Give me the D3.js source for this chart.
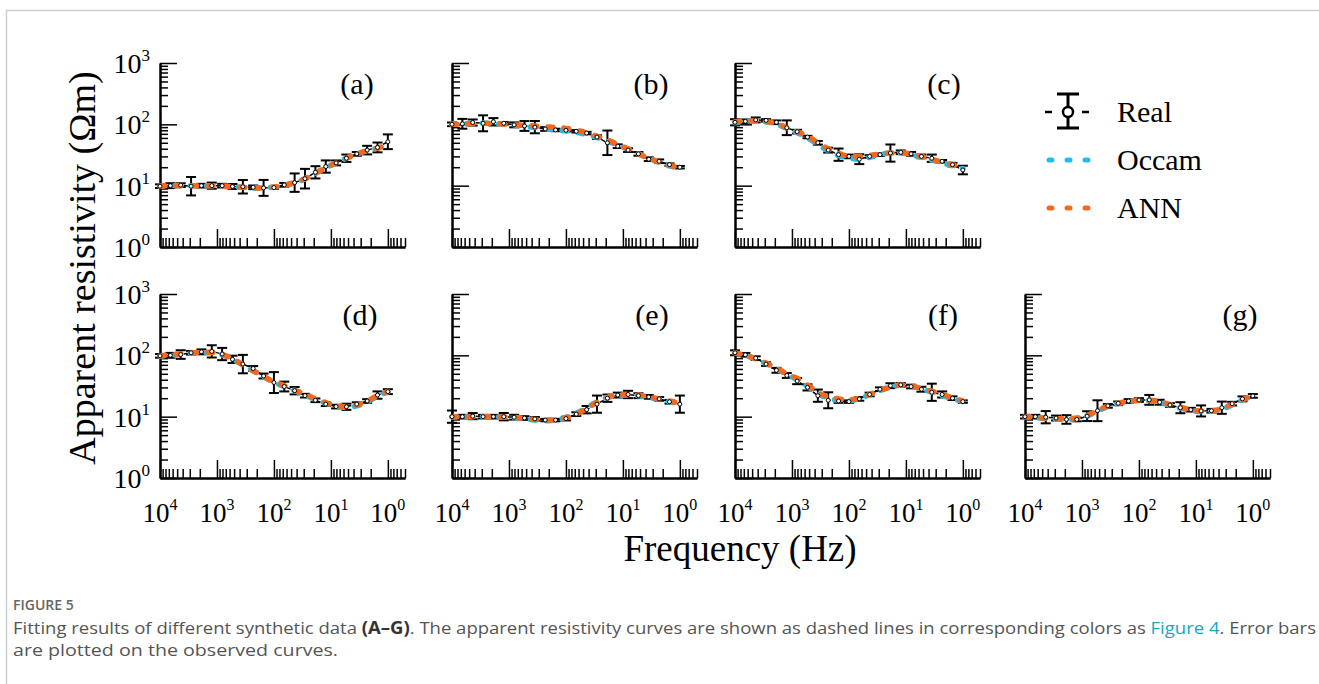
<!DOCTYPE html>
<html>
<head>
<meta charset="utf-8">
<script src="https://cdn.jsdelivr.net/npm/d3@7"></script>
<style>
  html, body { margin: 0; padding: 0; background: #fff; }
  svg { display: block; }
</style>
</head>
<body>
<svg id="chart" width="1319" height="684"></svg>
<script>
// sounding frequencies (Hz), shared by every panel
const freqs = [10000, 6579, 4329, 2848, 1874, 1233, 811, 534, 351, 231, 152, 100,
  65.8, 43.3, 28.5, 18.7, 12.3, 8.11, 5.34, 3.51, 2.31, 1.52, 1.0];

// panel (a)
const realA = [9.8, 10, 10.2, 9.8, 10, 10, 10, 9.7, 9.6, 9.4, 9.2, 9.3, 10.3, 11.2, 13, 16.5, 20.5, 23.5, 28, 33, 38, 42, 52];
const errA = [0.03, 0.04, 0.03, 0.15, 0.03, 0.05, 0.03, 0.04, 0.11, 0.03, 0.13, 0.02, 0.03, 0.15, 0.16, 0.1, 0.1, 0.04, 0.06, 0.03, 0.07, 0.08, 0.12];
const occamA = [9.8, 10, 10, 10, 10, 10, 9.8, 9.6, 9.4, 9.2, 9.2, 9.5, 10.1, 11.1, 13, 16, 19.5, 23.5, 28, 33, 37, 41, 46];
const annA = [9.8, 10, 10, 10, 10, 10, 9.8, 9.6, 9.4, 9.2, 9.2, 9.5, 10.2, 11.2, 13, 16, 19.5, 23.5, 28, 33, 37, 41, 46];

// panel (b)
const realB = [100, 102, 107, 104, 110, 104, 98, 94, 90, 84, 81, 80, 77, 72, 62, 50, 44, 38, 33, 27, 25, 22, 20];
const errB = [0.03, 0.08, 0.05, 0.13, 0.06, 0.02, 0.04, 0.08, 0.1, 0.03, 0.02, 0.02, 0.02, 0.02, 0.03, 0.2, 0.03, 0.03, 0.03, 0.03, 0.03, 0.02, 0.02];
const occamB = [100, 101, 103, 104, 103, 100, 97, 93, 89, 85, 81, 78, 74, 68, 61, 53, 46, 39, 33, 28, 24, 21, 19.5];
const annB = [100, 101, 103, 104, 103, 101, 98, 96, 94, 91, 89, 86, 80, 73, 64, 56, 47, 40, 33, 28, 24.5, 21.5, 19.5];

// panel (c)
const realC = [108, 112, 118, 116, 108, 88, 76, 62, 50, 38, 32, 30, 27, 30, 32, 34, 35, 33, 30, 28, 25, 22, 18];
const errC = [0.05, 0.03, 0.04, 0.02, 0.03, 0.12, 0.03, 0.02, 0.03, 0.04, 0.1, 0.03, 0.08, 0.02, 0.02, 0.14, 0.03, 0.03, 0.03, 0.06, 0.02, 0.03, 0.07];
const occamC = [106, 112, 114, 110, 101, 86, 73, 60, 47, 37, 31, 28, 27, 29, 32, 34, 34, 32, 29, 26, 23.5, 21, 19];
const annC = [110, 114, 115, 110, 104, 88, 76, 64, 50, 40, 34, 30, 30, 31, 33, 34, 34, 33, 30, 27, 24, 22, 19];

// panel (d)
const realD = [98, 100, 103, 110, 114, 116, 105, 86, 72, 61, 46, 36, 31, 26.5, 22, 18.5, 16, 14.6, 14.5, 16, 18, 22.5, 25.6];
const errD = [0.03, 0.04, 0.07, 0.03, 0.04, 0.1, 0.1, 0.06, 0.15, 0.04, 0.04, 0.17, 0.08, 0.06, 0.03, 0.03, 0.03, 0.03, 0.05, 0.03, 0.03, 0.06, 0.04];
const occamD = [97, 100, 104, 108, 110, 110, 102, 87, 70, 56, 45, 36, 31, 26.5, 22.5, 19, 16.5, 14.8, 14.2, 15, 17.4, 21.5, 25.6];
const annD = [98, 102, 106, 110, 112, 112, 104, 88, 70, 56, 45, 37, 32, 27, 23.5, 19.5, 17, 15, 14.6, 15.5, 18, 22, 25.6];

// panel (e)
const realE = [10, 10, 10.2, 10, 10, 10, 9.8, 9.5, 9.2, 8.8, 8.8, 9.3, 11, 13, 16, 20, 22.5, 23, 22, 21, 19.5, 17.5, 16];
const errE = [0.1, 0.03, 0.05, 0.03, 0.03, 0.06, 0.04, 0.03, 0.03, 0.02, 0.02, 0.03, 0.03, 0.06, 0.14, 0.06, 0.04, 0.06, 0.04, 0.03, 0.03, 0.03, 0.14];
const occamE = [10, 10, 10, 10, 10, 9.8, 9.5, 9.2, 8.8, 8.6, 8.8, 9.8, 11.4, 14, 17.5, 20.5, 22, 22.5, 22, 20.5, 19, 17.5, 16.3];
const annE = [10, 10, 10, 10, 10, 9.9, 9.7, 9.4, 9.0, 8.8, 8.9, 9.6, 11, 13.5, 17, 20.5, 22.5, 23, 22.5, 21, 19.5, 18, 16.5];

// panel (f)
const realF = [110, 102, 90, 72, 57, 47, 38, 30, 22, 18.5, 18, 17.6, 19.5, 23, 28, 32, 33, 31, 28, 25, 23, 20, 17.6];
const errF = [0.04, 0.03, 0.03, 0.03, 0.04, 0.04, 0.05, 0.05, 0.1, 0.13, 0.03, 0.02, 0.03, 0.03, 0.03, 0.04, 0.03, 0.03, 0.04, 0.14, 0.05, 0.03, 0.02];
const occamF = [109, 99, 87, 73, 60, 49, 40, 31, 24, 20, 18.5, 18.2, 19.6, 23, 27, 30.5, 32.5, 31.5, 28.5, 25, 22, 19.6, 17.6];
const annF = [110, 100, 88, 75, 62, 50, 42, 33, 25, 21, 19.5, 19, 20, 23, 27, 30, 33, 31.5, 29, 26, 23, 20.5, 18];

// panel (g)
const realG = [10, 10, 9.8, 9.5, 9, 9, 10.2, 12.5, 15, 16.5, 18, 18.7, 18.8, 17.2, 15.5, 14, 13, 12.4, 12.5, 14, 16.3, 19.5, 21.8];
const errG = [0.03, 0.03, 0.1, 0.04, 0.07, 0.03, 0.08, 0.17, 0.03, 0.03, 0.03, 0.03, 0.08, 0.04, 0.03, 0.09, 0.03, 0.09, 0.03, 0.1, 0.03, 0.04, 0.03];
const occamG = [10, 9.6, 9.3, 9.1, 9.0, 9.3, 10.3, 12.3, 14.6, 16.3, 17.6, 18.3, 18.2, 17.1, 15.4, 13.8, 12.7, 12.1, 12.2, 13.2, 15.5, 18.8, 21.5];
const annG = [10, 9.8, 9.5, 9.3, 9.2, 9.5, 10.5, 12.5, 15, 16.5, 17.8, 18.5, 18.5, 17.5, 15.8, 14.2, 13, 12.4, 12.5, 13.5, 16, 19, 21.5];

const panelLabels = ['(a)', '(b)', '(c)', '(d)', '(e)', '(f)', '(g)'];
const xMajor = [10000, 1000, 100, 10, 1];
const xExponents = ['4', '3', '2', '1', '0'];
const yMajor = [1, 10, 100, 1000];
const yExponents = ['0', '1', '2', '3'];
const legendNames = ['Real', 'Occam', 'ANN'];

const OCCAM_COLOR = '#22bdee';
const ANN_COLOR = '#f26a1e';
const FIT_DASH = '5 11';
const SERIF = "'Liberation Serif', 'Times New Roman', serif";
const SANS = "'Open Sans', 'Noto Sans', sans-serif";

const COL_X = [160, 452, 735, 1025];
const ROW_Y = [63, 294];
const PW = 245;
const PH = 184;

const panels = [
  { real: realA, err: errA, occam: occamA, ann: annA, col: 0, row: 0, lx: 197 },
  { real: realB, err: errB, occam: occamB, ann: annB, col: 1, row: 0, lx: 199 },
  { real: realC, err: errC, occam: occamC, ann: annC, col: 2, row: 0, lx: 209 },
  { real: realD, err: errD, occam: occamD, ann: annD, col: 0, row: 1, lx: 200 },
  { real: realE, err: errE, occam: occamE, ann: annE, col: 1, row: 1, lx: 200 },
  { real: realF, err: errF, occam: occamF, ann: annF, col: 2, row: 1, lx: 208 },
  { real: realG, err: errG, occam: occamG, ann: annG, col: 3, row: 1, lx: 215 },
];

// minor ticks: 2..9 within each decade
const minorTicks = (lo, hi) => {
  const out = [];
  for (let e = lo; e < hi; e++) {
    for (let m = 2; m <= 9; m++) out.push(m * Math.pow(10, e));
  }
  return out;
};
const xMinor = minorTicks(0, 4).concat([0.5, 0.6, 0.7, 0.8, 0.9]);
const yMinor = minorTicks(0, 3);

const x = d3.scaleLog().domain([10000, 0.5]).range([0, PW]);
const y = d3.scaleLog().domain([1, 1000]).range([PH, 0]);

const svg = d3.select('#chart');
svg.append('rect').attr('width', 1319).attr('height', 684).attr('fill', '#fff');

// page frame
svg.append('path')
  .attr('d', 'M6.5,684 L6.5,10.5 L1319,10.5')
  .attr('fill', 'none')
  .attr('stroke', '#cfcfcf')
  .attr('stroke-width', 1.5);

function addPower(sel, exp, supSize) {
  sel.append('tspan').text('10');
  sel.append('tspan')
    .attr('dy', -12)
    .attr('font-size', supSize)
    .text(exp);
}

panels.forEach((p, i) => {
  const g = svg.append('g')
    .attr('transform', `translate(${COL_X[p.col]},${ROW_Y[p.row]})`);

  // axes, ticks pointing inward
  const styleAxis = (ax) => {
    ax.select('.domain').attr('stroke', '#000').attr('stroke-width', 2);
    ax.selectAll('.tick line').attr('stroke', '#000').attr('stroke-width', 1.5);
    ax.selectAll('.tick text').remove();
  };

  const xAxisG = g.append('g').attr('transform', `translate(0,${PH})`);
  xAxisG.append('g')
    .call(d3.axisBottom(x).tickValues(xMinor).tickSize(-9).tickSizeOuter(0).tickFormat(''))
    .call(styleAxis);
  xAxisG.append('g')
    .call(d3.axisBottom(x).tickValues(xMajor).tickSize(-18).tickSizeOuter(0).tickFormat(''))
    .call(styleAxis);

  const yAxisG = g.append('g');
  yAxisG.append('g')
    .call(d3.axisLeft(y).tickValues(yMinor).tickSize(-8).tickSizeOuter(0).tickFormat(''))
    .call(styleAxis);
  yAxisG.append('g')
    .call(d3.axisLeft(y).tickValues(yMajor).tickSize(-17).tickSizeOuter(0).tickFormat(''))
    .call(styleAxis);

  if (p.col === 0) {
    yMajor.forEach((v, k) => {
      const t = g.append('text')
        .attr('x', -10)
        .attr('y', y(v) + 10)
        .attr('text-anchor', 'end')
        .attr('font-family', SERIF)
        .attr('font-size', 28)
        .attr('fill', '#000');
      addPower(t, yExponents[k], 17);
    });
  }

  if (p.row === 1) {
    xMajor.forEach((v, k) => {
      const t = g.append('text')
        .attr('x', x(v))
        .attr('y', PH + 44)
        .attr('text-anchor', 'middle')
        .attr('font-family', SERIF)
        .attr('font-size', 27)
        .attr('fill', '#000');
      addPower(t, xExponents[k], 16);
    });
  }

  const pts = freqs.map((f, k) => ({ f, v: p.real[k], e: p.err[k] }));

  // observed curve: thin black dashes, error bars, open circles
  g.append('path')
    .datum(pts)
    .attr('d', d3.line().x(d => x(d.f)).y(d => y(d.v)))
    .attr('fill', 'none')
    .attr('stroke', '#000')
    .attr('stroke-width', 1.5)
    .attr('stroke-dasharray', '4 4');

  const bars = g.append('g').attr('stroke', '#000').attr('stroke-width', 2);
  pts.forEach((d) => {
    const cx = x(d.f);
    const y1 = y(d.v * Math.pow(10, d.e));
    const y2 = y(d.v / Math.pow(10, d.e));
    bars.append('line').attr('x1', cx).attr('x2', cx).attr('y1', y1).attr('y2', y2);
    bars.append('line').attr('x1', cx - 5).attr('x2', cx + 5).attr('y1', y1).attr('y2', y1);
    bars.append('line').attr('x1', cx - 5).attr('x2', cx + 5).attr('y1', y2).attr('y2', y2);
  });

  const fitLine = d3.line().curve(d3.curveMonotoneX).x((d, k) => x(freqs[k])).y(d => y(d));

  g.append('path')
    .datum(p.occam)
    .attr('d', fitLine)
    .attr('fill', 'none')
    .attr('stroke', OCCAM_COLOR)
    .attr('stroke-width', 5.5)
    .attr('stroke-linecap', 'round')
    .attr('stroke-dasharray', FIT_DASH)
    .attr('stroke-dashoffset', 1.5);

  g.append('path')
    .datum(p.ann)
    .attr('d', fitLine)
    .attr('fill', 'none')
    .attr('stroke', ANN_COLOR)
    .attr('stroke-width', 5.5)
    .attr('stroke-linecap', 'round')
    .attr('stroke-dasharray', FIT_DASH);

  g.selectAll('circle.obs')
    .data(pts)
    .join('circle')
    .attr('class', 'obs')
    .attr('cx', d => x(d.f))
    .attr('cy', d => y(d.v))
    .attr('r', 2)
    .attr('fill', '#fff')
    .attr('stroke', '#000')
    .attr('stroke-width', 1);

  g.append('text')
    .attr('x', p.lx)
    .attr('y', 31)
    .attr('text-anchor', 'middle')
    .attr('font-family', SERIF)
    .attr('font-size', 30)
    .attr('fill', '#000')
    .text(panelLabels[i]);
});

// legend
const legend = svg.append('g').attr('transform', 'translate(1045,0)');
const legendY = [112, 160, 208];

legend.append('line')
  .attr('x1', 0).attr('x2', 45).attr('y1', legendY[0]).attr('y2', legendY[0])
  .attr('stroke', '#000').attr('stroke-width', 2.5).attr('stroke-dasharray', '7 30');
legend.append('line')
  .attr('x1', 23).attr('x2', 23).attr('y1', legendY[0] - 18).attr('y2', legendY[0] + 16)
  .attr('stroke', '#000').attr('stroke-width', 3);
[legendY[0] - 18, legendY[0] + 16].forEach((yy) => {
  legend.append('line')
    .attr('x1', 12).attr('x2', 34).attr('y1', yy).attr('y2', yy)
    .attr('stroke', '#000').attr('stroke-width', 3);
});
legend.append('circle')
  .attr('cx', 23).attr('cy', legendY[0]).attr('r', 5)
  .attr('fill', '#fff').attr('stroke', '#000').attr('stroke-width', 2.5);

[OCCAM_COLOR, ANN_COLOR].forEach((c, k) => {
  legend.append('line')
    .attr('x1', 4).attr('x2', 45).attr('y1', legendY[k + 1]).attr('y2', legendY[k + 1])
    .attr('stroke', c).attr('stroke-width', 5)
    .attr('stroke-linecap', 'round').attr('stroke-dasharray', '3 15');
});

legendNames.forEach((name, k) => {
  legend.append('text')
    .attr('x', 72)
    .attr('y', legendY[k] + 10)
    .attr('font-family', SERIF)
    .attr('font-size', 30)
    .attr('fill', '#000')
    .text(name);
});

// axis titles
svg.append('text')
  .attr('transform', 'translate(95,268) rotate(-90)')
  .attr('text-anchor', 'middle')
  .attr('font-family', SERIF)
  .attr('font-size', 38)
  .attr('fill', '#000')
  .text('Apparent resistivity (Ωm)');

svg.append('text')
  .attr('x', 740)
  .attr('y', 561)
  .attr('text-anchor', 'middle')
  .attr('font-family', SERIF)
  .attr('font-size', 37)
  .attr('fill', '#000')
  .text('Frequency (Hz)');

// caption
svg.append('text')
  .attr('x', 13)
  .attr('y', 610)
  .attr('font-family', SANS)
  .attr('font-size', 14)
  .attr('font-weight', 600)
  .attr('fill', '#666')
  .text('FIGURE 5');

const cap1 = svg.append('text')
  .attr('x', 13)
  .attr('y', 634)
  .attr('font-family', SANS)
  .attr('font-size', 17)
  .attr('fill', '#555')
  .attr('textLength', 1303)
  .attr('lengthAdjust', 'spacingAndGlyphs');
cap1.append('tspan').text('Fitting results of different synthetic data ');
cap1.append('tspan').attr('font-weight', 700).attr('fill', '#333').text('(A–G)');
cap1.append('tspan').text('. The apparent resistivity curves are shown as dashed lines in corresponding colors as ');
cap1.append('tspan').attr('fill', '#1aa6c6').text('Figure 4');
cap1.append('tspan').text('. Error bars');

svg.append('text')
  .attr('x', 13)
  .attr('y', 656)
  .attr('font-family', SANS)
  .attr('font-size', 17)
  .attr('fill', '#555')
  .attr('textLength', 325)
  .attr('lengthAdjust', 'spacingAndGlyphs')
  .text('are plotted on the observed curves.');
</script>
</body>
</html>
